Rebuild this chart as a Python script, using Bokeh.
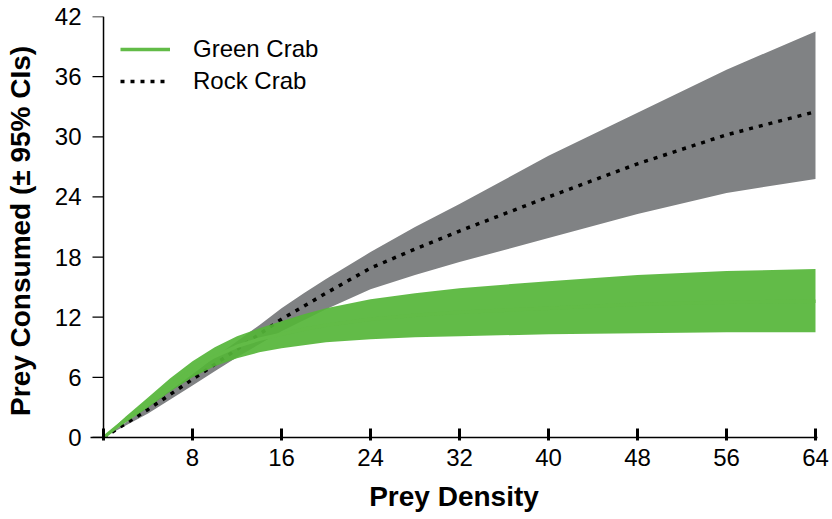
from bokeh.plotting import figure
from bokeh.models import Range1d, FixedTicker, Legend, LegendItem, Span
from bokeh.embed import file_html
from bokeh.resources import INLINE

# ---- data ----
density = [0, 2, 4, 6, 8, 10, 12, 14, 16, 18, 20, 24, 28, 32, 40, 48, 56, 64]

green_mean  = [0, 1.8, 3.5, 5.2, 6.8, 8.1, 9.1, 9.8, 10.3, 10.8, 11.2, 11.8, 12.2, 12.5, 12.9, 13.3, 13.5, 13.6]
green_upper = [0, 2.1, 4.0, 5.9, 7.6, 9.0, 10.1, 10.9, 11.6, 12.3, 12.9, 13.8, 14.4, 14.9, 15.6, 16.2, 16.6, 16.8]
green_lower = [0, 1.5, 3.0, 4.6, 6.0, 7.1, 7.9, 8.5, 8.9, 9.2, 9.5, 9.8, 10.0, 10.1, 10.3, 10.4, 10.5, 10.5]

rock_mean  = [0, 1.4, 2.8, 4.3, 5.8, 7.3, 8.8, 10.3, 11.8, 13.1, 14.4, 16.9, 18.8, 20.6, 24.0, 27.3, 30.2, 32.5]
rock_upper = [0, 1.5, 3.1, 4.7, 6.3, 8.0, 9.6, 11.2, 12.9, 14.4, 15.8, 18.5, 21.0, 23.3, 28.1, 32.4, 36.7, 40.5]
rock_lower = [0, 1.2, 2.4, 3.8, 5.2, 6.6, 8.0, 9.3, 10.6, 11.7, 12.8, 14.8, 16.2, 17.5, 19.9, 22.3, 24.4, 25.8]

x_ticks = [0, 8, 16, 24, 32, 40, 48, 56, 64]
y_ticks = [0, 6, 12, 18, 24, 30, 36, 42]

x_title = "Prey Density"
y_title = "Prey Consumed (\u00b1 95%  CIs)"

GREEN_FILL = "#55b538"
GREEN_LINE = "#62bb47"
GRAY = "#808284"
FONT = "Liberation Sans"
YTICK_LEN = 0.99      # data units (~11 px)

p = figure(width=832, height=519, output_backend="svg", toolbar_location=None,
           x_range=Range1d(-1.17, 64.18), y_range=Range1d(0, 42),
           min_border_left=90, min_border_right=15, min_border_top=16, min_border_bottom=82)
p.outline_line_color = None
p.grid.visible = False
p.background_fill_color = "white"
p.border_fill_color = "white"

p.varea(x=density, y1=rock_lower, y2=rock_upper, fill_color=GRAY, fill_alpha=1.0)
rock_r = p.line(density, rock_mean, line_color="black", line_width=3.5, line_dash="4 6")
p.varea(x=density, y1=green_lower, y2=green_upper, fill_color=GREEN_FILL, fill_alpha=0.92)
green_r = p.line(density, green_mean, line_color=GREEN_LINE, line_width=3.5)

# y axis line and ticks drawn at x = 0
p.add_layout(Span(location=0, dimension="height", line_color="black", line_width=1.5))
p.segment(x0=[0] * len(y_ticks), y0=y_ticks, x1=[-YTICK_LEN] * len(y_ticks), y1=y_ticks,
          line_color="black", line_width=1.3)

# y axis (labels only)
ya = p.yaxis[0]
ya.ticker = FixedTicker(ticks=y_ticks)
ya.minor_tick_line_color = None
ya.major_tick_line_color = None
ya.axis_line_color = None
ya.major_tick_in = 0
ya.major_tick_out = 0
ya.major_label_text_font = FONT
ya.major_label_text_font_size = "24px"
ya.major_label_text_color = "black"
ya.major_label_standoff = 9
ya.axis_label = y_title
ya.axis_label_text_font = FONT
ya.axis_label_text_font_style = "bold"
ya.axis_label_text_font_size = "28px"
ya.axis_label_text_color = "black"
ya.axis_label_standoff = 16

# x axis
xa = p.xaxis[0]
xa.ticker = FixedTicker(ticks=x_ticks)
xa.major_label_overrides = {0: ""}
xa.minor_tick_line_color = None
xa.major_tick_in = 9
xa.major_tick_out = 3
xa.major_tick_line_width = 3
xa.axis_line_width = 1.5
xa.major_label_text_font = FONT
xa.major_label_text_font_size = "24px"
xa.major_label_text_color = "black"
xa.major_label_standoff = 8
xa.axis_label = x_title
xa.axis_label_text_font = FONT
xa.axis_label_text_font_style = "bold"
xa.axis_label_text_font_size = "28px"
xa.axis_label_text_color = "black"
xa.axis_label_standoff = 12

legend = Legend(items=[LegendItem(label="Green Crab", renderers=[green_r]),
                       LegendItem(label="Rock Crab", renderers=[rock_r])],
                location=(30, 340), padding=0, margin=0, spacing=0,
                glyph_width=50, glyph_height=32, label_height=32,
                label_standoff=23, label_text_font=FONT,
                label_text_font_size="24px", label_text_color="black",
                background_fill_alpha=0, border_line_color=None)
p.add_layout(legend, "center")

open("out.html", "w").write(file_html(p, INLINE))
